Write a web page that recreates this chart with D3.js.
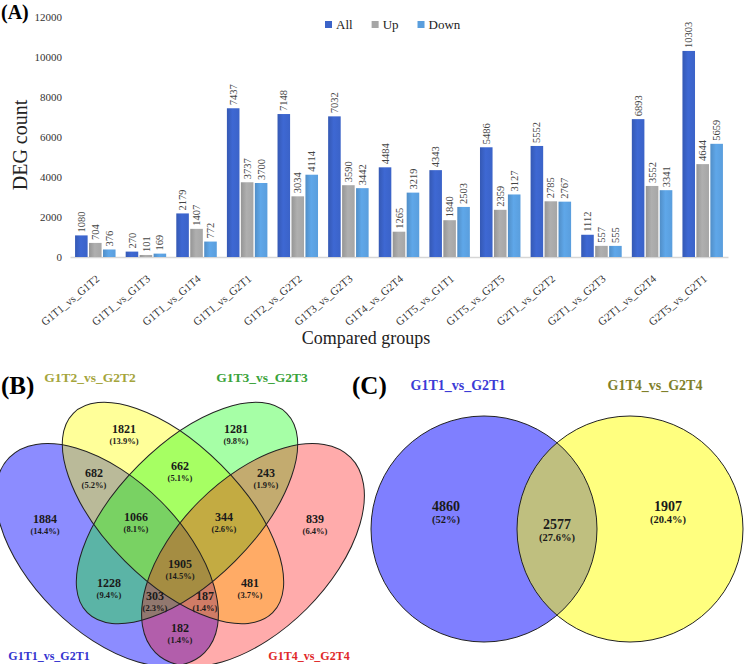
<!DOCTYPE html>
<html>
<head>
<meta charset="utf-8">
<script src="https://cdn.jsdelivr.net/npm/d3@7"></script>
<style>
  body { margin: 0; background: #fff; }
  svg { display: block; }
</style>
</head>
<body>
<svg id="fig" width="744" height="664"></svg>
<script>
// bar chart data (A)
const groups = ['G1T1_vs_G1T2', 'G1T1_vs_G1T3', 'G1T1_vs_G1T4', 'G1T1_vs_G2T1', 'G1T2_vs_G2T2', 'G1T3_vs_G2T3',
  'G1T4_vs_G2T4', 'G1T5_vs_G1T1', 'G1T5_vs_G2T5', 'G2T1_vs_G2T2', 'G2T1_vs_G2T3', 'G2T1_vs_G2T4', 'G2T5_vs_G2T1']
const allCounts = [1080, 270, 2179, 7437, 7148, 7032, 4484, 4343, 5486, 5552, 1112, 6893, 10303]
const upCounts = [704, 101, 1407, 3737, 3034, 3590, 1265, 1840, 2359, 2785, 557, 3552, 4644]
const downCounts = [376, 169, 772, 3700, 4114, 3442, 3219, 2503, 3127, 2767, 555, 3341, 5659]
const series = ['All', 'Up', 'Down']
const yTicks = [0, 2000, 4000, 6000, 8000, 10000, 12000]

// four-set venn data (B)
const vennSets = ['G1T1_vs_G2T1', 'G1T2_vs_G2T2', 'G1T3_vs_G2T3', 'G1T4_vs_G2T4']
const vennRegions = ['1000', '0100', '0010', '0001', '1100', '0110', '0011', '1110', '0111', '1111', '1010', '0101', '1011', '1101', '1001']
const vennCounts = [1884, 1821, 1281, 839, 682, 662, 243, 1066, 344, 1905, 1228, 481, 303, 187, 182]
const vennPercents = ['14.4%', '13.9%', '9.8%', '6.4%', '5.2%', '5.1%', '1.9%', '8.1%', '2.6%', '14.5%', '9.4%', '3.7%', '2.3%', '1.4%', '1.4%']

// two-set venn data (C)
const pairSets = ['G1T1_vs_G2T1', 'G1T4_vs_G2T4']
const pairRegions = ['10', '11', '01']
const pairCounts = [4860, 2577, 1907]
const pairPercents = ['52%', '27.6%', '20.4%']

const SERIF = '"Liberation Serif", "Times New Roman", serif'
const svg = d3.select('#fig').attr('font-family', SERIF)
const defs = svg.append('defs')

// ---------- (A) ----------
const barColors = ['#3b63c8', '#a6a6a6', '#5a9edd']
const countsBySeries = [allCounts, upCounts, downCounts]
const rows = groups.map((g, i) => ({ group: g, items: series.map((s, k) => ({ series: s, value: countsBySeries[k][i] })) }))

series.forEach((s, i) => {
  const c = d3.color(barColors[i])
  const grad = defs.append('linearGradient').attr('id', 'grad-' + s)
    .attr('x1', 0).attr('x2', 1).attr('y1', 0).attr('y2', 0)
  grad.append('stop').attr('offset', '0%').attr('stop-color', c.darker(0.3))
  grad.append('stop').attr('offset', '45%').attr('stop-color', c.brighter(0.15))
  grad.append('stop').attr('offset', '100%').attr('stop-color', c)
})

const x0 = d3.scaleBand().domain(groups).range([70, 728]).paddingInner(0.2).paddingOuter(0.1)
const x1 = d3.scaleBand().domain(series).range([0, x0.bandwidth()]).paddingInner(0.1)
const y = d3.scaleLinear().domain([0, 12000]).range([257, 17])

const chart = svg.append('g')

const xAxis = chart.append('g').attr('transform', `translate(0,${y(0)})`)
  .call(d3.axisBottom(x0).tickSize(0).tickSizeOuter(0))
xAxis.attr('font-family', SERIF).attr('font-size', 11)
xAxis.select('.domain').attr('stroke', '#d6d6d6').attr('stroke-width', 1.5)
xAxis.selectAll('.tick text')
  .attr('fill', '#333').attr('text-anchor', 'end').attr('y', 0).attr('dy', 0)
  .attr('transform', 'translate(5,23) rotate(-40)')

const yAxis = chart.append('g').attr('transform', 'translate(66,0)')
  .call(d3.axisLeft(y).tickValues(yTicks).tickFormat(d3.format('d')).tickSize(0).tickPadding(4))
yAxis.attr('font-family', SERIF).attr('font-size', 11)
yAxis.select('.domain').remove()
yAxis.selectAll('.tick text').attr('fill', '#333')

const grp = chart.selectAll('g.grp').data(rows).join('g').attr('class', 'grp')
  .attr('transform', d => `translate(${x0(d.group)},0)`)
grp.selectAll('rect').data(d => d.items).join('rect')
  .attr('x', d => x1(d.series))
  .attr('y', d => y(d.value))
  .attr('width', x1.bandwidth())
  .attr('height', d => y(0) - y(d.value))
  .attr('fill', d => `url(#grad-${d.series})`)
grp.selectAll('text').data(d => d.items).join('text')
  .attr('transform', d => `translate(${x1(d.series) + x1.bandwidth() / 2 + 3.6},${y(d.value) - 3}) rotate(-90)`)
  .attr('font-size', 10.5).attr('fill', '#444')
  .text(d => d.value)

chart.append('text').attr('transform', 'translate(27,145) rotate(-90)')
  .attr('text-anchor', 'middle').attr('font-size', 20).attr('fill', '#222').text('DEG count')
chart.append('text').attr('x', 366).attr('y', 344)
  .attr('text-anchor', 'middle').attr('font-size', 18).attr('fill', '#222').text('Compared groups')
chart.append('text').attr('x', 1).attr('y', 19)
  .attr('font-size', 20).attr('font-weight', 'bold').text('(A)')

// legend
let lx = 325
series.forEach((s, i) => {
  chart.append('rect').attr('x', lx).attr('y', 21).attr('width', 7).attr('height', 7).attr('fill', barColors[i])
  const t = chart.append('text').attr('x', lx + 11).attr('y', 28.5).attr('font-size', 13).attr('fill', '#222').text(s)
  lx += 11 + t.node().getComputedTextLength() + 19
})

// ---------- venn helpers ----------
function inside (e, x, y) {
  const t = e.rot * Math.PI / 180
  const dx = x - e.cx
  const dy = y - e.cy
  const u = dx * Math.cos(t) + dy * Math.sin(t)
  const v = -dx * Math.sin(t) + dy * Math.cos(t)
  return (u / e.rx) ** 2 + (v / e.ry) ** 2 <= 1
}

// most interior point of every region (chamfer distance transform on a pixel grid)
function regionPoles (shapes, [xa, xb], [ya, yb]) {
  const W = xb - xa + 1
  const H = yb - ya + 1
  const lab = new Int16Array(W * H)
  for (let j = 0; j < H; j++) {
    for (let i = 0; i < W; i++) {
      let m = 0
      shapes.forEach((s, k) => { if (inside(s, xa + i, ya + j)) m |= (1 << k) })
      lab[j * W + i] = m
    }
  }
  const d = new Float32Array(W * H).fill(1e9)
  for (let j = 0; j < H; j++) {
    for (let i = 0; i < W; i++) {
      const p = j * W + i
      const l = lab[p]
      if (l === 0 || i === 0 || j === 0 || i === W - 1 || j === H - 1 ||
        lab[p - 1] !== l || lab[p + 1] !== l || lab[p - W] !== l || lab[p + W] !== l) d[p] = 0
    }
  }
  const R = Math.SQRT2
  for (let j = 1; j < H - 1; j++) {
    for (let i = 1; i < W - 1; i++) {
      const p = j * W + i
      d[p] = Math.min(d[p], d[p - 1] + 1, d[p - W] + 1, d[p - W - 1] + R, d[p - W + 1] + R)
    }
  }
  for (let j = H - 2; j > 0; j--) {
    for (let i = W - 2; i > 0; i--) {
      const p = j * W + i
      d[p] = Math.min(d[p], d[p + 1] + 1, d[p + W] + 1, d[p + W + 1] + R, d[p + W - 1] + R)
    }
  }
  const best = {}
  for (let p = 0; p < W * H; p++) {
    const l = lab[p]
    if (!l) continue
    if (!best[l] || d[p] > best[l].d) best[l] = { d: d[p], x: xa + (p % W), y: ya + Math.floor(p / W) }
  }
  return best
}

const maskOf = key => key.split('').reduce((m, c, k) => c === '1' ? m | (1 << k) : m, 0)

function drawVenn (g, shapes, keys, counts, percents, box, fonts) {
  g.selectAll('ellipse.fill').data(shapes).join('ellipse').attr('class', 'fill')
    .attr('cx', d => d.cx).attr('cy', d => d.cy).attr('rx', d => d.rx).attr('ry', d => d.ry)
    .attr('transform', d => `rotate(${d.rot},${d.cx},${d.cy})`)
    .attr('fill', d => d.fill).attr('fill-opacity', d => d.op)
  g.selectAll('ellipse.edge').data(shapes).join('ellipse').attr('class', 'edge')
    .attr('cx', d => d.cx).attr('cy', d => d.cy).attr('rx', d => d.rx).attr('ry', d => d.ry)
    .attr('transform', d => `rotate(${d.rot},${d.cx},${d.cy})`)
    .attr('fill', 'none').attr('stroke', '#222').attr('stroke-width', 1)
  const poles = regionPoles(shapes, box[0], box[1])
  const labels = keys.map((k, i) => ({ p: poles[maskOf(k)], count: counts[i], pct: percents[i] }))
  const lg = g.selectAll('g.lab').data(labels).join('g').attr('class', 'lab')
    .attr('transform', d => `translate(${d.p.x + fonts.dx},${d.p.y + fonts.dy})`)
    .attr('text-anchor', 'middle').attr('font-weight', 'bold').attr('fill', '#1a1a1a')
  lg.append('text').attr('y', fonts.numY).attr('font-size', fonts.num).text(d => d.count)
  lg.append('text').attr('y', fonts.pctY).attr('font-size', fonts.pct).text(d => `(${d.pct})`)
}

// ---------- (B) ----------
const quadShapes = [
  { cx: 107, cy: 555, rx: 138, ry: 76, rot: 45, fill: '#0000ff', op: 0.45 },
  { cx: 173, cy: 513, rx: 141, ry: 68, rot: 45, fill: '#ffff00', op: 0.4 },
  { cx: 187, cy: 513, rx: 141, ry: 68, rot: -45, fill: '#00ff00', op: 0.35 },
  { cx: 253, cy: 555, rx: 138, ry: 76, rot: -45, fill: '#ff0000', op: 0.33 }
]
const vennB = svg.append('g')
drawVenn(vennB, quadShapes, vennRegions, vennCounts, vennPercents, [[0, 362], [395, 666]],
  { num: 12, pct: 8.5, numY: -1, pctY: 9.5, dx: 0, dy: -2 })

vennB.append('text').attr('x', 1).attr('y', 394).attr('font-size', 25).attr('font-weight', 'bold').text('(B)')
const setLabelB = [
  { name: vennSets[1], x: 90, y: 382, size: 13.5, color: '#a5a53c' },
  { name: vennSets[2], x: 262, y: 382, size: 13.5, color: '#3aa33a' },
  { name: vennSets[0], x: 49, y: 660, size: 12, color: '#3434cf' },
  { name: vennSets[3], x: 309, y: 660, size: 12, color: '#e02828' }
]
vennB.selectAll('text.set').data(setLabelB).join('text').attr('class', 'set')
  .attr('x', d => d.x).attr('y', d => d.y).attr('text-anchor', 'middle')
  .attr('font-size', d => d.size).attr('font-weight', 'bold').attr('fill', d => d.color)
  .text(d => d.name)

// ---------- (C) ----------
const pairShapes = [
  { cx: 484, cy: 529, rx: 113, ry: 113, rot: 0, fill: '#0000ff', op: 0.5 },
  { cx: 630, cy: 529, rx: 113, ry: 113, rot: 0, fill: '#ffff00', op: 0.5 }
]
const vennC = svg.append('g')
drawVenn(vennC, pairShapes, pairRegions, pairCounts, pairPercents, [[368, 744], [413, 645]],
  { num: 14, pct: 10.5, numY: 0, pctY: 11.5, dx: 0, dy: 0 })
vennC.append('text').attr('x', 352).attr('y', 394).attr('font-size', 25).attr('font-weight', 'bold').text('(C)')
const setLabelC = [
  { name: pairSets[0], x: 458, y: 390, color: '#3b3bd6' },
  { name: pairSets[1], x: 655, y: 390, color: '#7f7f2a' }
]
vennC.selectAll('text.set').data(setLabelC).join('text').attr('class', 'set')
  .attr('x', d => d.x).attr('y', d => d.y).attr('text-anchor', 'middle')
  .attr('font-size', 14).attr('font-weight', 'bold').attr('fill', d => d.color)
  .text(d => d.name)
</script>
</body>
</html>
